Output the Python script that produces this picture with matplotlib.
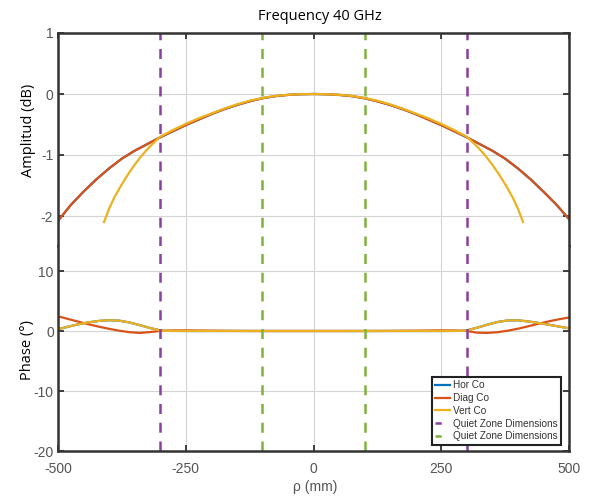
import numpy as np
import matplotlib
matplotlib.use("Agg")
import matplotlib.pyplot as plt
from matplotlib.lines import Line2D

plt.rcParams["axes.unicode_minus"] = False

# ---- data ----
amp_x_diag = [-500, -475, -450, -425, -400, -375, -350, -325, -300, -275, -250, -225, -200, -175,
              -150, -125, -100, -75, -50, -25, 0, 25, 50, 75, 100, 125, 150, 175, 200, 225, 250,
              275, 300, 325, 350, 375, 400, 425, 450, 475, 500]
amp_diag = [-2.08, -1.82, -1.6, -1.4, -1.22, -1.06, -0.93, -0.82, -0.71, -0.61, -0.51, -0.42, -0.33, -0.25,
            -0.18, -0.12, -0.07, -0.035, -0.015, -0.004, 0.0, -0.004, -0.015, -0.035, -0.07, -0.12, -0.18,
            -0.25, -0.33, -0.42, -0.51, -0.61, -0.71, -0.82, -0.93, -1.06, -1.22, -1.4, -1.6, -1.81, -2.05]
amp_x_vert = [-410, -400, -390, -380, -370, -360, -350, -340, -330, -320, -310, -300, -275, -250,
              -225, -200, -175, -150, -125, -100, -75, -50, -25, 0, 25, 50, 75, 100, 125, 150, 175,
              200, 225, 250, 275, 300, 310, 320, 330, 340, 350, 360, 370, 380, 390, 400, 410]
amp_vert = [-2.1, -1.88, -1.7, -1.55, -1.41, -1.28, -1.16, -1.05, -0.95, -0.86, -0.78, -0.7, -0.59, -0.49,
            -0.4, -0.32, -0.24, -0.17, -0.11, -0.065, -0.03, -0.013, -0.003, 0.0, -0.003, -0.013, -0.03,
            -0.065, -0.11, -0.17, -0.24, -0.32, -0.4, -0.49, -0.59, -0.7, -0.78, -0.86, -0.95, -1.05,
            -1.16, -1.28, -1.41, -1.55, -1.7, -1.88, -2.1]

ph_x_diag = [-500, -480, -460, -440, -420, -400, -380, -360, -340, -320, -300, -275, -250, -200, -150,
             -100, -50, 0, 50, 100, 150, 200, 250, 275, 300, 320, 340, 360, 380, 400, 420, 440, 460,
             480, 500]
ph_diag = [2.45, 2.0, 1.55, 1.12, 0.72, 0.36, 0.05, -0.2, -0.32, -0.18, 0.0, 0.08, 0.1, 0.05, 0.02,
           0.0, 0.0, 0.0, 0.0, 0.0, 0.02, 0.05, 0.1, 0.08, 0.0, -0.28, -0.32, -0.2, 0.05, 0.38, 0.78,
           1.2, 1.6, 1.95, 2.25]
ph_x_vert = [-500, -480, -460, -440, -420, -400, -380, -360, -340, -320, -300, -290, -250, -200, -150,
             -100, -50, 0, 50, 100, 150, 200, 250, 290, 300, 320, 340, 360, 380, 400, 420, 440, 460,
             480, 500]
ph_vert = [0.3, 0.72, 1.12, 1.45, 1.68, 1.8, 1.72, 1.42, 0.98, 0.5, 0.1, 0.02, 0.0, 0.0, 0.0,
           0.0, 0.0, 0.0, 0.0, 0.0, 0.0, 0.0, 0.0, 0.02, 0.1, 0.55, 1.05, 1.5, 1.76, 1.78, 1.6,
           1.35, 1.05, 0.75, 0.45]

qz_outer = [-300, 300]
qz_inner = [-100, 100]

x_ticks = [-500, -250, 0, 250, 500]
amp_ticks = [1, 0, -1, -2]
ph_ticks = [10, 0, -10, -20]

C_HOR = "#0072BD"
C_DIAG = "#D95319"
C_VERT = "#EDB120"
C_PUR = "#8A3F9E"
C_GRN = "#7FB23A"

W, H = 589, 498
fig = plt.figure(figsize=(W / 100, H / 100), dpi=100)
left = 58 / W
right = 569 / W
top_px, split_px, bot_px = 33, 246, 451
ax1 = fig.add_axes([left, 1 - split_px / H, right - left, (split_px - top_px) / H])
ax2 = fig.add_axes([left, 1 - bot_px / H, right - left, (bot_px - split_px) / H])

tick_col = "#555555"
for ax in (ax1, ax2):
    ax.set_xlim(-500, 500)
    ax.set_xticks(x_ticks)
    ax.grid(True, color="#d4d4d4", linewidth=0.8)
    ax.set_axisbelow(True)
    ax.tick_params(direction="in", length=4, width=1.2, colors="#222222",
                   labelcolor=tick_col, labelsize=10, top=True, right=True)
    for s in ax.spines.values():
        s.set_linewidth(1.8)
        s.set_color("#333333")
    for label in ax.get_xticklabels() + ax.get_yticklabels():
        label.set_family("Liberation Sans")

ax1.set_ylim(1 - (split_px - top_px) / 61, 1)
ax1.set_yticks(amp_ticks)
ax1.spines["bottom"].set_visible(False)
ax1.tick_params(bottom=False, labelbottom=False)
ax2.set_ylim(-20, (331 - split_px) / 6)
ax2.set_yticks(ph_ticks)
ax2.spines["top"].set_visible(False)
ax2.tick_params(top=False)
ax2.tick_params(axis="x", pad=8)
ax2.tick_params(axis="y", pad=3)

lw = 1.6
ax1.plot(amp_x_diag, amp_diag, color=C_HOR, lw=lw)
ax1.plot(amp_x_diag, amp_diag, color=C_DIAG, lw=lw)
ax1.plot(amp_x_vert, amp_vert, color=C_VERT, lw=lw)

l_h, = ax2.plot(ph_x_vert, ph_vert, color=C_HOR, lw=lw)
l_d, = ax2.plot(ph_x_diag, ph_diag, color=C_DIAG, lw=lw)
l_v, = ax2.plot(ph_x_vert, ph_vert, color=C_VERT, lw=lw)

dash = (0, (4, 3.5))
for ax in (ax1, ax2):
    for xv in qz_outer:
        ax.axvline(xv, color=C_PUR, lw=1.8, ls=dash)
    for xv in qz_inner:
        ax.axvline(xv, color=C_GRN, lw=1.8, ls=dash)

h_p = Line2D([], [], color=C_PUR, lw=1.8, ls=(0, (2.5, 10)))
h_g = Line2D([], [], color=C_GRN, lw=1.8, ls=(0, (2.5, 10)))
leg = ax2.legend([l_h, l_d, l_v, h_p, h_g],
                 ["Hor Co", "Diag Co", "Vert Co", "Quiet Zone Dimensions", "Quiet Zone Dimensions"],
                 loc="lower right", bbox_to_anchor=(0.988, 0.02),
                 prop={"family": "Liberation Sans", "size": 7.2},
                 handlelength=1.5, handletextpad=0.25, labelspacing=0.28,
                 borderpad=0.35, borderaxespad=0.2, fancybox=False, framealpha=1,
                 edgecolor="#222222")
leg.get_frame().set_linewidth(1.5)
for t in leg.get_texts():
    t.set_color("#333333")

fig.text((left + right) / 2 + 0.01, 1 - 16 / H, "Frequency 40 GHz", ha="center", va="center",
         fontsize=10.5, family="Open Sans")
fig.text(28 / W, 1 - 130 / H, "Amplitud (dB)", rotation=90, ha="center", va="center",
         fontsize=10.5, family="Open Sans")
fig.text(28 / W, 1 - 350 / H, "Phase (°)", rotation=90, ha="center", va="center",
         fontsize=10.5, family="Open Sans")
fig.text(315 / W, 1 - 487 / H, "ρ (mm)", ha="center", va="center",
         fontsize=10, family="Liberation Sans", color=tick_col)

fig.savefig("out.png", dpi=100)
